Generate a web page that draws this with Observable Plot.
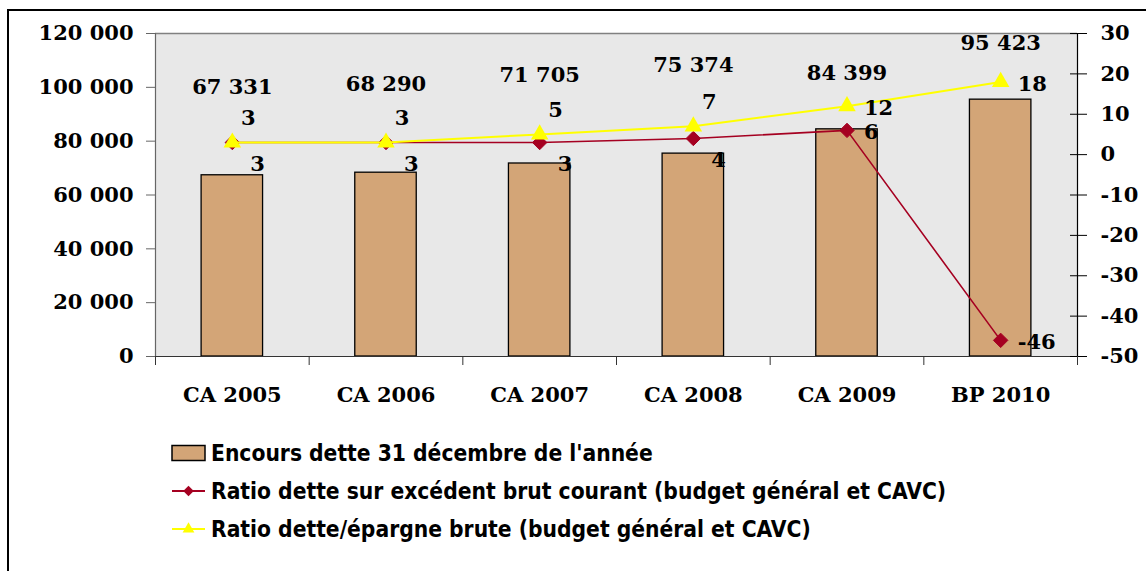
<!DOCTYPE html>
<html>
<head>
<meta charset="utf-8">
<script src="https://cdn.jsdelivr.net/npm/d3@7"></script>
<script src="https://cdn.jsdelivr.net/npm/@observablehq/plot@0.6"></script>
<style>
  html, body { margin: 0; padding: 0; background: #fff; overflow: hidden; width: 1146px; height: 571px; }
  #frame { position: absolute; left: 7px; top: 9px; width: 1200px; height: 620px; border: 2px solid #000; box-sizing: border-box; }
  #chart { position: absolute; left: 0; top: 0; }
  #legend { position: absolute; left: 0; top: 0; width: 1146px; height: 571px; pointer-events: none; }
  .lg { position: absolute; left: 211px; font-family: "DejaVu Sans", sans-serif; font-stretch: condensed; font-weight: bold; font-size: 22.6px; line-height: 24px; color: #000; white-space: nowrap; }
</style>
</head>
<body>
<div id="frame"></div>
<div id="chart"></div>
<div id="legend"></div>
<script>
// ---- data ----
const categories = ["CA 2005", "CA 2006", "CA 2007", "CA 2008", "CA 2009", "BP 2010"];
const encours = [67331, 68290, 71705, 75374, 84399, 95423];
const ratioExcedent = [3, 3, 3, 4, 6, -46];
const ratioEpargne = [3, 3, 5, 7, 12, 18];
const leftTicks = [0, 20000, 40000, 60000, 80000, 100000, 120000];
const rightTicks = [-50, -40, -30, -20, -10, 0, 10, 20, 30];
const seriesNames = [
  "Encours dette 31 décembre de l'année",
  "Ratio dette sur excédent brut courant (budget général et CAVC)",
  "Ratio dette/épargne brute (budget général et CAVC)"
];

// ---- build table ----
const leftMax = 120000, rMin = -50, rMax = 30;
const toLeft = v => (v - rMin) / (rMax - rMin) * leftMax;
const fromLeft = y => Math.round(y / leftMax * (rMax - rMin) + rMin);
const data = categories.map((c, i) => ({ i, c, encours: encours[i], r1: ratioExcedent[i], r2: ratioEpargne[i] }));
const fmt = v => d3.format(",")(v).replace(/,/g, " ");

const SERIF = "'DejaVu Serif', 'Liberation Serif', serif";
const TAN = "#d3a577", RED = "#a50021", YEL = "#ffff00";
const txt = { fontFamily: SERIF, fontWeight: "bold", fontSize: 21, fill: "#000" };

const early = data.slice(0, 4), late = data.slice(4);

const chart = Plot.plot({
  width: 1146,
  height: 430,
  marginLeft: 155,
  marginRight: 69,
  marginTop: 33,
  marginBottom: 74,
  x: { domain: [-0.5, categories.length - 0.5], axis: null },
  y: { domain: [0, leftMax], axis: null },
  style: { background: "transparent", fontFamily: SERIF, fontWeight: "bold", fontSize: "21px", color: "#000", overflow: "visible" },
  marks: [
    Plot.frame({ fill: "#e8e8e8", stroke: null }),
    Plot.ruleY([leftMax], { stroke: "#808080", strokeWidth: 1.5 }),
    Plot.rectY(data, { x1: d => d.i - 0.2, x2: d => d.i + 0.2, y: "encours", fill: TAN, stroke: "#000", strokeWidth: 1.3 }),
    Plot.ruleY([0], { stroke: "#333", strokeWidth: 1.2 }),
    Plot.ruleX([-0.5], { stroke: "#666", strokeWidth: 1.2 }),
    Plot.ruleX([categories.length - 0.5], { stroke: "#000", strokeWidth: 1.2 }),
    Plot.axisY({ anchor: "left", ticks: leftTicks, tickFormat: fmt, tickSize: 9, tickPadding: 13, label: null, stroke: "#666", ...txt }),
    Plot.axisY({ anchor: "right", ticks: rightTicks.map(toLeft), tickFormat: fromLeft, tickSize: 9, tickPadding: 14, label: null, stroke: "#000", ...txt }),
    Plot.axisY({ anchor: "right", ticks: rightTicks.map(toLeft), tickFormat: () => "", tickSize: -8, label: null, stroke: "#000" }),
    Plot.axisX({ ticks: d3.range(-0.5, categories.length, 1), tickFormat: () => "", tickSize: 9, label: null, stroke: "#333" }),
    Plot.axisX({ ticks: d3.range(categories.length), tickFormat: i => categories[i], tickSize: 0, tickPadding: 31, label: null, ...txt }),
    // red line
    Plot.line(data, { x: "i", y: d => toLeft(d.r1), stroke: RED, strokeWidth: 1.6 }),
    Plot.dot(data, { x: "i", y: d => toLeft(d.r1), symbol: "diamond2", r: 6.5, fill: RED, stroke: RED, strokeWidth: 1 }),
    // yellow line
    Plot.line(data, { x: "i", y: d => toLeft(d.r2), stroke: YEL, strokeWidth: 2 }),
    Plot.dot(data, { x: "i", y: d => toLeft(d.r2), symbol: "triangle", r: 6.5, fill: YEL, stroke: null }),
    // labels
    Plot.text(early, { x: "i", y: "encours", text: d => fmt(d.encours), dy: -88, ...txt }),
    Plot.text(late, { x: "i", y: "encours", text: d => fmt(d.encours), dy: -56, ...txt }),
    Plot.text(early, { x: "i", y: d => toLeft(d.r1), text: d => String(d.r1), dx: 18, dy: 22, textAnchor: "start", ...txt }),
    Plot.text(late, { x: "i", y: d => toLeft(d.r1), text: d => String(d.r1), dx: 17, dy: 2, textAnchor: "start", ...txt }),
    Plot.text(early, { x: "i", y: d => toLeft(d.r2), text: d => String(d.r2), dx: 16, dy: -24, ...txt }),
    Plot.text(late, { x: "i", y: d => toLeft(d.r2), text: d => String(d.r2), dx: 17, dy: 2, textAnchor: "start", ...txt })
  ]
});
document.getElementById("chart").appendChild(chart);

// ---- legend ----
const lg = document.getElementById("legend");
const rows = [
  { y: 453, kind: "bar" },
  { y: 491, kind: "red" },
  { y: 529, kind: "yel" }
];
const ns = "http://www.w3.org/2000/svg";
const sv = document.createElementNS(ns, "svg");
sv.setAttribute("width", 1146); sv.setAttribute("height", 571);
sv.style.position = "absolute"; sv.style.left = "0"; sv.style.top = "0";
rows.forEach((r, k) => {
  if (r.kind === "bar") {
    const rc = document.createElementNS(ns, "rect");
    rc.setAttribute("x", 172); rc.setAttribute("y", r.y - 7.5); rc.setAttribute("width", 33); rc.setAttribute("height", 15);
    rc.setAttribute("fill", TAN); rc.setAttribute("stroke", "#000"); rc.setAttribute("stroke-width", 1.5);
    sv.appendChild(rc);
  } else {
    const col = r.kind === "red" ? RED : YEL;
    const ln = document.createElementNS(ns, "line");
    ln.setAttribute("x1", 172); ln.setAttribute("x2", 205); ln.setAttribute("y1", r.y); ln.setAttribute("y2", r.y);
    ln.setAttribute("stroke", col); ln.setAttribute("stroke-width", 2);
    sv.appendChild(ln);
    const p = document.createElementNS(ns, "path");
    const s = r.kind === "red" ? d3.symbol(d3.symbolDiamond2, 70)() : d3.symbol(d3.symbolTriangle, 60)();
    p.setAttribute("d", s); p.setAttribute("fill", col);
    p.setAttribute("transform", `translate(188.5,${r.y})`);
    sv.appendChild(p);
  }
  const t = document.createElement("div");
  t.className = "lg";
  t.style.top = (r.y - 12) + "px";
  t.textContent = seriesNames[k];
  lg.appendChild(t);
});
lg.insertBefore(sv, lg.firstChild);
</script>
</body>
</html>
